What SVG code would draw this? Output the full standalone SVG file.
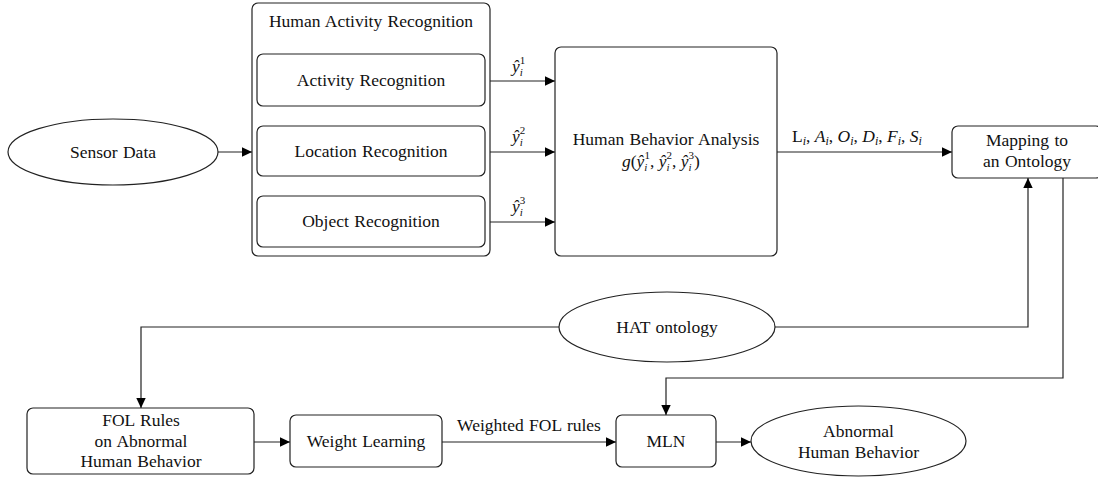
<svg xmlns="http://www.w3.org/2000/svg" width="1098" height="481" viewBox="0 0 1098 481" font-family="'Liberation Serif', 'Times New Roman', Times, 'DejaVu Serif', serif">
<style>
.box{fill:#fff;stroke:#222;stroke-width:1.2}
.ell{fill:#fff;stroke:#222;stroke-width:1.2}
.t{font-family:'Liberation Serif','Times New Roman',Times,'DejaVu Serif',serif;font-size:17.5px;fill:#111;text-anchor:middle;word-spacing:1px}
.m{font-family:'Liberation Serif','Times New Roman',Times,'DejaVu Serif',serif;font-size:17.5px;fill:#111}
.c{fill:none;stroke:#222;stroke-width:1.2}
</style>
<defs>
<marker id="ah" viewBox="0 0 10 10" refX="10" refY="5" markerWidth="10" markerHeight="11" markerUnits="userSpaceOnUse" orient="auto">
<path d="M0,0.3 L10,5 L0,9.7 z" fill="#000"/>
</marker>
</defs>

<g id="connectors">
<line class="c" x1="218" y1="152" x2="252" y2="152" marker-end="url(#ah)"/>
<line class="c" x1="490" y1="81" x2="555" y2="81" marker-end="url(#ah)"/>
<line class="c" x1="490" y1="152" x2="555" y2="152" marker-end="url(#ah)"/>
<line class="c" x1="490" y1="222" x2="555" y2="222" marker-end="url(#ah)"/>
<line class="c" x1="777" y1="152" x2="952" y2="152" marker-end="url(#ah)"/>
<polyline class="c" points="775,327 1028,327 1028,178" marker-end="url(#ah)"/>
<polyline class="c" points="559,327 141,327 141,408" marker-end="url(#ah)"/>
<polyline class="c" points="1063,178 1063,378 666,378 666,415" marker-end="url(#ah)"/>
<line class="c" x1="254" y1="442" x2="290" y2="442" marker-end="url(#ah)"/>
<line class="c" x1="442" y1="442" x2="616" y2="442" marker-end="url(#ah)"/>
<line class="c" x1="716" y1="442" x2="751" y2="442" marker-end="url(#ah)"/>
<text class="m" x="512" y="72"><tspan font-style="italic">ŷ</tspan><tspan font-style="italic" font-size="11" dy="4">i</tspan><tspan font-size="11" dx="-3" dy="-12">1</tspan></text>
<text class="m" x="512" y="142"><tspan font-style="italic">ŷ</tspan><tspan font-style="italic" font-size="11" dy="4">i</tspan><tspan font-size="11" dx="-3" dy="-12">2</tspan></text>
<text class="m" x="512" y="212"><tspan font-style="italic">ŷ</tspan><tspan font-style="italic" font-size="11" dy="4">i</tspan><tspan font-size="11" dx="-3" dy="-12">3</tspan></text>
<text class="m" x="792" y="142">L<tspan font-style="italic" font-size="12" dy="3">i</tspan><tspan dy="-3">, </tspan><tspan font-style="italic">A</tspan><tspan font-style="italic" font-size="12" dy="3">i</tspan><tspan dy="-3">, </tspan><tspan font-style="italic">O</tspan><tspan font-style="italic" font-size="12" dy="3">i</tspan><tspan dy="-3">, </tspan><tspan font-style="italic">D</tspan><tspan font-style="italic" font-size="12" dy="3">i</tspan><tspan dy="-3">, </tspan><tspan font-style="italic">F</tspan><tspan font-style="italic" font-size="12" dy="3">i</tspan><tspan dy="-3">, </tspan><tspan font-style="italic">S</tspan><tspan font-style="italic" font-size="12" dy="3">i</tspan></text>
<text class="t" x="529" y="431">Weighted FOL rules</text>
</g>

<g id="sensor-data">
<ellipse class="ell" cx="113" cy="152" rx="105" ry="33"/>
<text class="t" x="113" y="158">Sensor Data</text>
</g>

<g id="har">
<rect class="box" x="252" y="3" width="238" height="253" rx="6"/>
<text class="t" x="371" y="27">Human Activity Recognition</text>
</g>
<g id="activity">
<rect class="box" x="257" y="54" width="228" height="52" rx="6"/>
<text class="t" x="371" y="86">Activity Recognition</text>
</g>
<g id="location">
<rect class="box" x="257" y="126" width="228" height="50" rx="6"/>
<text class="t" x="371" y="157">Location Recognition</text>
</g>
<g id="object">
<rect class="box" x="257" y="196" width="228" height="51" rx="6"/>
<text class="t" x="371" y="227">Object Recognition</text>
</g>

<g id="hba">
<rect class="box" x="555" y="47" width="222" height="209" rx="6"/>
<text class="t" x="666" y="145">Human Behavior Analysis</text>
<text class="m" x="622" y="167"><tspan font-style="italic">g</tspan>(<tspan font-style="italic">ŷ</tspan><tspan font-style="italic" font-size="11" dy="4">i</tspan><tspan font-size="11" dx="-3" dy="-12">1</tspan><tspan dy="8">, </tspan><tspan font-style="italic">ŷ</tspan><tspan font-style="italic" font-size="11" dy="4">i</tspan><tspan font-size="11" dx="-3" dy="-12">2</tspan><tspan dy="8">, </tspan><tspan font-style="italic">ŷ</tspan><tspan font-style="italic" font-size="11" dy="4">i</tspan><tspan font-size="11" dx="-3" dy="-12">3</tspan><tspan dy="8">)</tspan></text>
</g>

<g id="mapping">
<rect class="box" x="952" y="126" width="150" height="52" rx="6"/>
<text class="t" x="1027" y="146">Mapping to</text>
<text class="t" x="1027" y="167">an Ontology</text>
</g>

<g id="hat-ontology">
<ellipse class="ell" cx="667" cy="327" rx="108" ry="35"/>
<text class="t" x="667" y="333">HAT ontology</text>
</g>

<g id="fol-rules">
<rect class="box" x="27" y="408" width="227" height="66" rx="6"/>
<text class="t" x="141" y="426">FOL Rules</text>
<text class="t" x="141" y="446.5">on Abnormal</text>
<text class="t" x="141" y="467">Human Behavior</text>
</g>

<g id="weight-learning">
<rect class="box" x="290" y="415" width="152" height="52" rx="6"/>
<text class="t" x="366" y="447">Weight Learning</text>
</g>

<g id="mln">
<rect class="box" x="616" y="415" width="100" height="52" rx="6"/>
<text class="t" x="666" y="447">MLN</text>
</g>

<g id="abnormal">
<ellipse class="ell" cx="858.5" cy="441" rx="107.5" ry="35"/>
<text class="t" x="858.5" y="437">Abnormal</text>
<text class="t" x="858.5" y="458">Human Behavior</text>
</g>
</svg>
